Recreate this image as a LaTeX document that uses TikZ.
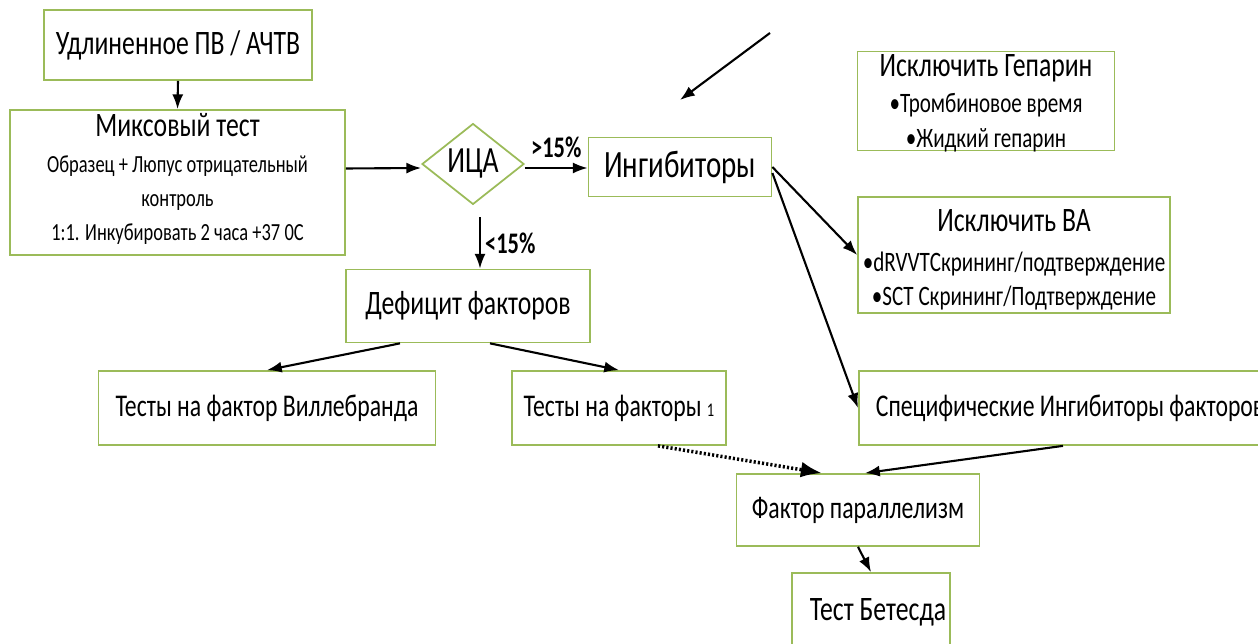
\documentclass[tikz,border=0pt]{standalone}
\usepackage{fontspec}
\setmainfont{Carlito}[FakeStretch=0.75]
\usetikzlibrary{positioning, calc, shapes.geometric, arrows.meta}
\definecolor{boxgreen}{RGB}{155,187,89}

\begin{document}
\begin{tikzpicture}[x=0.02cm, y=-0.02cm,
	box/.style={draw=boxgreen, line width=1pt, inner sep=0pt, align=center},
	big/.style={font=\fontsize{19.5}{24}\selectfont},
	mid/.style={font=\fontsize{18}{21}\selectfont},
	small/.style={font=\fontsize{14}{19.3}\selectfont},
	bullets/.style={font=\fontsize{16}{19.3}\selectfont},
	arr/.style={-Latex, line width=1.2pt}]
	\useasboundingbox (0, 0) rectangle (1258, 644);
	\node[box, big, minimum width=5.36cm, minimum height=1.4cm] (pv) at (178, 45) {Удлиненное ПВ / АЧТВ};
	\node[box, small, minimum width=6.7cm, minimum height=2.9cm] (mix) at (177.5, 182.5) {{\fontsize{19.5}{24}\selectfont Миксовый тест}\\[1pt] Образец + Люпус отрицательный\\ контроль\\ 1:1. Инкубировать 2 часа +37 0С\\[-13pt]};
	\node[box, diamond, font=\fontsize{21}{24}\selectfont, minimum width=2.04cm, minimum height=1.46cm] (ica) at (473, 164) {ИЦА};
	\node[box, font=\fontsize{22}{26}\selectfont, minimum width=3.66cm, minimum height=1.18cm] (inh) at (680, 167) {Ингибиторы};
	\node[box, bullets, text depth=0pt, minimum width=5.14cm, minimum height=1.98cm] (hep) at (986, 101) {{\fontsize{19.5}{24}\selectfont Исключить Гепарин}\\[1pt] •Тромбиновое время\\[0.5pt] •Жидкий гепарин};
	\node[box, bullets, minimum width=6.24cm, minimum height=2.32cm] (va) at (1014, 255) {\rule{0pt}{18pt}{\fontsize{19.5}{24}\selectfont Исключить ВА}\\[3pt] •dRVVTСкрининг/подтверждение\\ •SCT Скрининг/Подтверждение};
	\node[box, big, minimum width=4.88cm, minimum height=1.46cm] (def) at (468, 306) {Дефицит факторов};
	\node[box, mid, minimum width=6.74cm, minimum height=1.48cm] (vwf) at (267, 408) {Тесты на фактор Виллебранда};
	\node[box, mid, minimum width=4.28cm, minimum height=1.48cm] (fac) at (619, 408) {Тесты на факторы {\fontsize{11}{12}\selectfont 1}};
	\node[box, mid, anchor=west, inner xsep=0.34cm, minimum height=1.48cm] (spec) at (858, 408) {Специфические Ингибиторы факторов};
	\node[box, mid, minimum width=4.86cm, minimum height=1.44cm] (par) at (858, 510) {Фактор параллелизм};
	\node[box, big, minimum width=3.16cm, minimum height=1.56cm] (bet) at (871, 612) {\hspace{8pt}Тест Бетесда};
	\coordinate (from) at (770, 33);
	\coordinate (to) at (680, 100);
	\draw[arr] (pv.south) -- (mix.north);
	\draw[arr] ($(mix.east)+(0,-14)$) -- ($(ica.west)+(0,4)$);
	\draw[arr] ($(ica.east)+(0,4)$) -- ($(inh.west)+(0,1)$) node[midway, above=2pt, font=\fontsize{17}{20}\selectfont\bfseries] (gt) {>15\%};
	\draw[arr] ($(ica.south)+(7,12)$) -- ($(def.north)+(12,0)$) node[midway, right=-1pt, font=\fontsize{17}{20}\selectfont\bfseries] (lt) {<15\%};
	\draw[arr] (from) -- (to);
	\draw[arr] (inh.east) -- (va.west);
	\draw[arr] ($(inh.east)+(0,6)$) -- (spec.west);
	\draw[arr] ($(def.south)+(-68,0)$) -- (vwf.north);
	\draw[arr] ($(def.south)+(22,0)$) -- (fac.north);
	\draw[arr, line width=2pt, dash pattern=on 1.2pt off 1.2pt] ($(fac.south)+(39,0)$) -- ($(par.north)+(-36,0)$);
	\draw[arr] ($(spec.south west)+(205,0)$) -- ($(par.north)+(7,0)$);
	\draw[arr] (par.south) -- (bet.north);
\end{tikzpicture}
\end{document}
